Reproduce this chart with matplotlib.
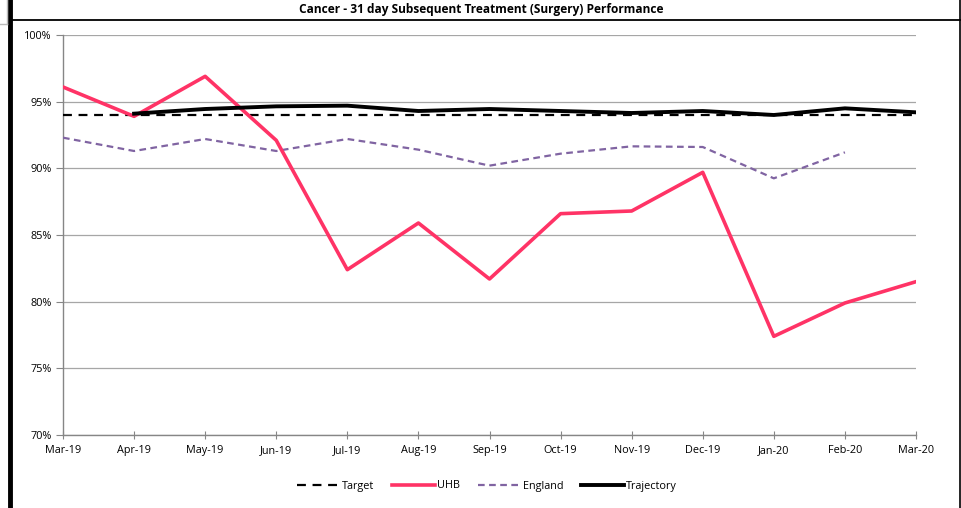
import numpy as np
import matplotlib
matplotlib.use("Agg")
import matplotlib.pyplot as plt
from matplotlib.lines import Line2D

plt.rcParams['font.family'] = ['Open Sans', 'DejaVu Sans']

months = ["Mar-19", "Apr-19", "May-19", "Jun-19", "Jul-19", "Aug-19", "Sep-19",
          "Oct-19", "Nov-19", "Dec-19", "Jan-20", "Feb-20", "Mar-20"]
target = [94.0] * 13
uhb = [96.1, 93.9, 96.9, 92.1, 82.4, 85.9, 81.7, 86.6, 86.8, 89.7, 77.4, 79.9, 81.5]
england = [92.3, 91.3, 92.2, 91.3, 92.2, 91.4, 90.2, 91.1, 91.65, 91.6, 89.25, 91.2]
trajectory = [94.1, 94.45, 94.65, 94.7, 94.3, 94.45, 94.3, 94.15, 94.3, 94.0, 94.5, 94.2]
yticks = [70, 75, 80, 85, 90, 95, 100]

W, H = 961, 508
fig = plt.figure(figsize=(W / 100, H / 100), dpi=100)
ax = fig.add_axes([63 / W, 1 - 435 / H, (916 - 63) / W, 400 / H])

x = np.arange(len(months))
ax.plot(x, target, color="black", lw=1.6, ls=(0, (4, 3)), label="Target", zorder=3)
ax.plot(x, uhb, color="#FF3366", lw=2.6, label="UHB", zorder=4)
ax.plot(x[:len(england)], england, color="#8064A2", lw=1.6, ls=(0, (3, 2)),
        label="England", zorder=3)
ax.plot(x[1:], trajectory, color="black", lw=2.8, label="Trajectory", zorder=5)

ax.set_xlim(0, len(months) - 1)
ax.set_ylim(70, 100)
ax.set_xticks(x)
ax.set_xticklabels(months, fontsize=7.8)
ax.set_yticks(yticks)
ax.set_yticklabels([f"{v}%" for v in yticks], fontsize=7.8)
ax.grid(axis="y", color="#A6A6A6", lw=0.9)
ax.set_axisbelow(True)
for s in ["top", "right"]:
    ax.spines[s].set_visible(False)
for s in ["left", "bottom"]:
    ax.spines[s].set_color("#868686")
    ax.spines[s].set_linewidth(1)
ax.tick_params(axis="y", length=5, color="#868686", pad=3)
ax.tick_params(axis="x", direction="inout", length=6, color="#868686", pad=4)

fig.text(481 / W, 1 - 9 / H, "Cancer - 31 day Subsequent Treatment (Surgery) Performance",
         ha="center", va="center", fontsize=8.6, fontweight="bold")

leg = fig.legend(loc="center", bbox_to_anchor=(487 / W, 1 - 486 / H), ncol=4,
                 frameon=False, fontsize=7.8, handlelength=3.9, columnspacing=1.7,
                 handletextpad=0.2)

# sheet borders around the chart
fig.add_artist(Line2D([10 / W, 10 / W], [0, 1], color="black", lw=3.5))
fig.add_artist(Line2D([12 / W, 960 / W], [1 - 20 / H, 1 - 20 / H], color="black", lw=1.3))
fig.add_artist(Line2D([959.5 / W, 959.5 / W], [0, 1], color="black", lw=1.2))
fig.add_artist(Line2D([0, 7 / W], [1 - 24 / H, 1 - 24 / H], color="#BBBBBB", lw=1))
fig.add_artist(Line2D([7 / W, 7 / W], [1 - 24 / H, 1], color="#BBBBBB", lw=1))

fig.savefig("out.png", dpi=100)
